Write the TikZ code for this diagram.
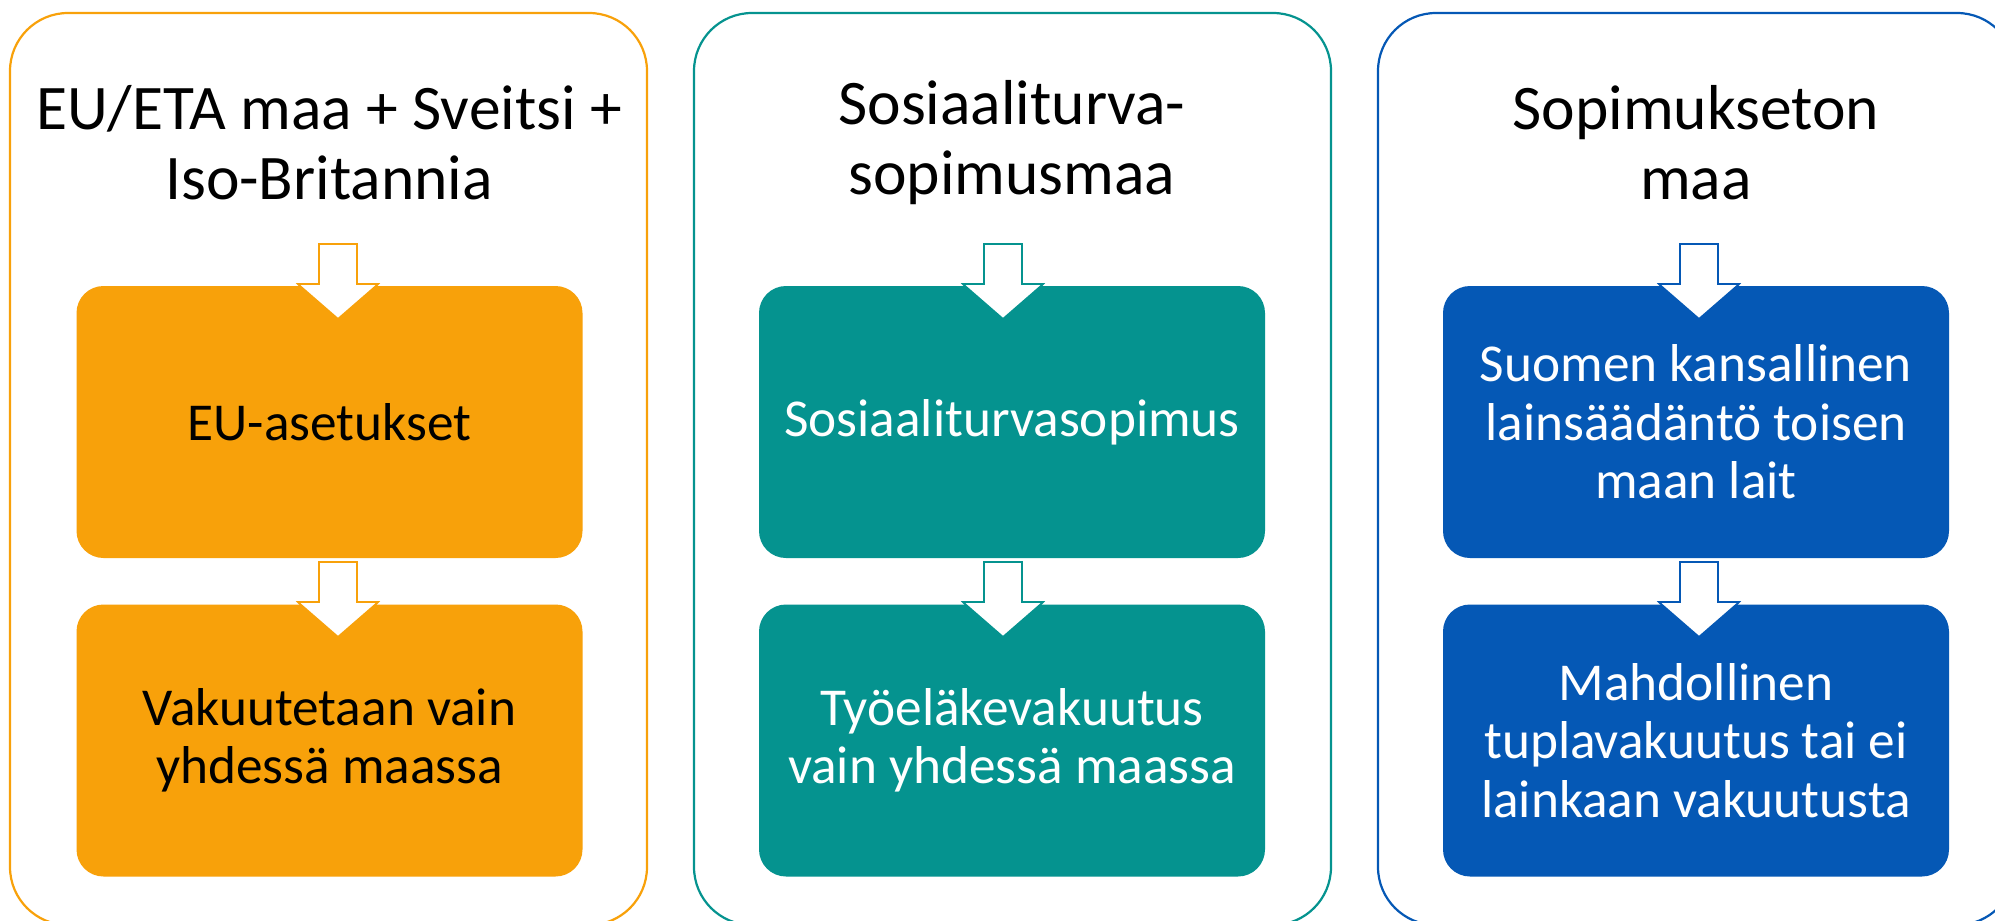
\documentclass[tikz,border=0pt]{standalone}
\usepackage{fontspec}
\setmainfont{Carlito}
\definecolor{orng}{HTML}{F8A10A}
\definecolor{teal2}{HTML}{05938F}
\definecolor{blu}{HTML}{0558B5}
\newcommand{\blockarrow}[3]{% x, ytop, color
  \draw[#3, line width=1.8pt, fill=white, line join=miter]
    (#1-19,#2) -- (#1+19,#2) -- (#1+19,#2+40) -- (#1+40,#2+40) -- (#1+38,#2+42)
    -- (#1,#2+75) -- (#1-38,#2+42) -- (#1-40,#2+40) -- (#1-19,#2+40) -- cycle;}
\tikzset{
  outerbox/.style={draw=#1, line width=2.2pt, rounded corners=58pt, fill=white,
    minimum width=637pt, minimum height=912pt, inner sep=0pt},
  innerbox/.style={fill=#1, rounded corners=27pt, minimum width=506pt,
    minimum height=272pt, inner sep=0pt},
  titletext/.style={align=center, font=\fontsize{63.5pt}{70pt}\selectfont, text=black},
  boxtext/.style={align=center, font=\fontsize{53.3pt}{58.5pt}\selectfont, text=#1},
}
\begin{document}
\begin{tikzpicture}[x=1pt,y=-1pt]
\useasboundingbox (0,0) rectangle (1995,921);
\clip (0,0) rectangle (1995,921);
% outer panels
\node[outerbox=orng]  (p1) at (328.5,469) {};
\node[outerbox=teal2] (p2) at (1012.5,469) {};
\node[outerbox=blu]   (p3) at (1696.5,469) {};
% titles
\node[titletext] (t1) at (329,143) {EU/ETA maa + Sveitsi +\\Iso-Britannia};
\node[titletext] (t2) at (1012,143) {Sosiaaliturva-\\sopimusmaa};
\node[titletext] (t3) at (1696,143) {Sopimukseton\\maa};
% inner boxes
\node[innerbox=orng]  (a1) at (329.5,422) {};
\node[innerbox=orng]  (b1) at (329.5,740.5) {};
\node[innerbox=teal2] (a2) at (1012,422) {};
\node[innerbox=teal2] (b2) at (1012,740.5) {};
\node[innerbox=blu]   (a3) at (1696,422) {};
\node[innerbox=blu]   (b3) at (1696,740.5) {};
% arrows
\blockarrow{338}{244}{orng}
\blockarrow{338}{562}{orng}
\blockarrow{1003}{244}{teal2}
\blockarrow{1003}{562}{teal2}
\blockarrow{1699}{244}{blu}
\blockarrow{1699}{562}{blu}
% inner texts
\node[boxtext=black] (ta1) at (a1) {EU-asetukset};
\node[boxtext=black] (tb1) at (b1) {Vakuutetaan vain\\yhdessä maassa};
\node[boxtext=white] (ta2) at (a2) {Sosiaaliturvasopimus};
\node[boxtext=white] (tb2) at (b2) {Työeläkevakuutus\\vain yhdessä maassa};
\node[boxtext=white] (ta3) at (a3) {Suomen kansallinen\\lainsäädäntö toisen\\maan lait};
\node[boxtext=white] (tb3) at (b3) {Mahdollinen\\tuplavakuutus tai ei\\lainkaan vakuutusta};
\end{tikzpicture}
\end{document}
